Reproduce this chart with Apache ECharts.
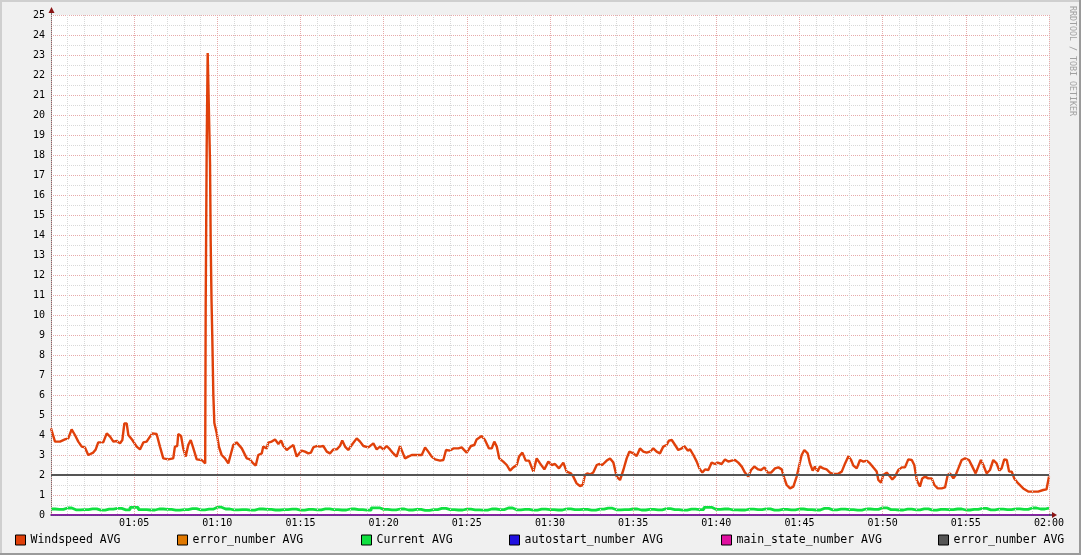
<!DOCTYPE html>
<html><head><meta charset="utf-8">
<script src="https://cdn.jsdelivr.net/npm/echarts@6/dist/echarts.min.js"></script>
<style>html,body{margin:0;padding:0;background:#f0f0f0}#c{width:1081px;height:555px}</style>
</head><body><div id="c"></div>
<script>
// minutes after 01:00 -> value
const windspeedPoints = [
[0.00,4.33],[0.24,3.67],[0.54,3.67],[0.84,3.78],[1.04,3.83],[1.24,4.28],[1.44,4.0],[1.64,3.67],[1.85,3.42],[2.04,3.38],
[2.24,3.0],[2.54,3.12],[2.69,3.28],[2.84,3.63],[3.14,3.63],[3.35,4.08],[3.55,3.92],[3.75,3.67],[3.95,3.7],[4.15,3.58],
[4.29,3.75],[4.41,4.58],[4.55,4.58],[4.65,4.0],[4.89,3.75],[5.15,3.42],[5.35,3.28],[5.55,3.63],[5.75,3.67],[5.95,3.92],
[6.09,4.08],[6.35,4.05],[6.55,3.42],[6.75,2.83],[7.05,2.78],[7.35,2.83],[7.45,3.42],[7.59,3.45],[7.65,4.05],[7.82,3.95],
[7.95,3.33],[8.10,2.92],[8.25,3.5],[8.40,3.75],[8.56,3.33],[8.76,2.78],[9.06,2.75],[9.27,2.58],[9.30,10.5],[9.35,10.5],
[9.36,18.4],[9.41,18.4],[9.42,23.1],[9.53,23.1],[9.56,17.6],[9.59,17.6],[9.60,13.7],[9.64,13.7],[9.65,10.75],[9.70,8.75],[9.76,6.0],
[9.82,4.6],[9.96,4.1],[10.10,3.4],[10.26,3.0],[10.46,2.83],[10.66,2.58],[10.96,3.5],[11.16,3.63],[11.47,3.33],[11.77,2.83],
[11.96,2.78],[12.16,2.58],[12.31,2.47],[12.46,3.0],[12.67,3.08],[12.76,3.42],[12.97,3.33],[13.06,3.62],[13.27,3.67],[13.47,3.78],
[13.67,3.55],[13.83,3.72],[13.97,3.45],[14.17,3.25],[14.37,3.38],[14.57,3.5],[14.77,2.92],[14.87,2.83],[15.07,3.22],[15.27,3.17],
[15.47,3.08],[15.63,3.12],[15.77,3.38],[15.97,3.45],[16.17,3.42],[16.37,3.45],[16.58,3.17],[16.77,3.08],[16.97,3.28],[17.18,3.28],
[17.37,3.45],[17.51,3.72],[17.68,3.42],[17.87,3.25],[18.08,3.5],[18.38,3.83],[18.58,3.67],[18.78,3.45],[19.08,3.38],[19.38,3.58],
[19.58,3.28],[19.78,3.42],[19.98,3.28],[20.18,3.45],[20.38,3.28],[20.58,3.08],[20.78,2.92],[20.98,3.45],[21.12,3.17],[21.28,2.83],
[21.48,2.92],[21.69,3.0],[21.99,3.0],[22.29,3.0],[22.49,3.38],[22.68,3.17],[22.89,2.92],[23.09,2.78],[23.39,2.72],[23.59,2.75],
[23.75,3.25],[23.99,3.22],[24.19,3.33],[24.49,3.33],[24.69,3.38],[24.99,3.12],[25.25,3.45],[25.45,3.5],[25.59,3.78],[25.89,3.95],
[26.09,3.75],[26.33,3.33],[26.50,3.33],[26.65,3.67],[26.80,3.42],[26.95,2.83],[27.19,2.67],[27.40,2.5],[27.60,2.22],[27.79,2.38],
[28.00,2.5],[28.14,2.92],[28.34,3.12],[28.54,2.72],[28.74,2.72],[29.00,2.17],[29.20,2.83],[29.40,2.58],[29.66,2.28],[29.90,2.67],
[30.10,2.5],[30.30,2.55],[30.54,2.33],[30.80,2.62],[31.00,2.17],[31.26,2.08],[31.40,1.92],[31.60,1.58],[31.80,1.45],[31.97,1.5],
[32.10,2.0],[32.24,2.08],[32.41,2.03],[32.60,2.13],[32.81,2.5],[32.95,2.55],[33.14,2.5],[33.41,2.72],[33.61,2.83],[33.81,2.62],
[34.01,1.92],[34.21,1.75],[34.41,2.25],[34.61,2.83],[34.77,3.17],[35.01,3.08],[35.21,2.95],[35.41,3.33],[35.61,3.17],[35.81,3.12],
[36.01,3.17],[36.21,3.33],[36.41,3.17],[36.61,3.08],[36.81,3.42],[37.01,3.5],[37.15,3.72],[37.32,3.75],[37.52,3.5],[37.71,3.25],
[37.92,3.33],[38.07,3.45],[38.28,3.22],[38.42,3.28],[38.62,3.0],[38.82,2.67],[38.98,2.33],[39.16,2.12],[39.32,2.28],[39.52,2.25],
[39.72,2.62],[39.92,2.55],[40.08,2.62],[40.32,2.55],[40.52,2.78],[40.72,2.67],[40.92,2.72],[41.12,2.75],[41.32,2.62],[41.53,2.42],
[41.72,2.12],[41.92,1.92],[42.09,2.25],[42.28,2.42],[42.52,2.28],[42.69,2.25],[42.89,2.38],[43.09,2.12],[43.29,2.12],[43.53,2.33],
[43.73,2.38],[43.93,2.28],[44.09,1.83],[44.23,1.5],[44.43,1.33],[44.63,1.42],[44.83,1.92],[44.97,2.42],[45.13,3.0],[45.29,3.25],
[45.49,3.08],[45.63,2.58],[45.79,2.22],[45.93,2.42],[46.09,2.17],[46.23,2.42],[46.43,2.33],[46.63,2.28],[46.83,2.12],[47.03,2.05],
[47.30,2.05],[47.54,2.17],[47.74,2.58],[47.94,2.94],[48.10,2.75],[48.24,2.47],[48.44,2.33],[48.64,2.75],[48.84,2.67],[49.04,2.72],
[49.24,2.58],[49.44,2.38],[49.64,2.17],[49.74,1.75],[49.90,1.62],[50.04,2.0],[50.24,2.12],[50.44,1.92],[50.58,1.78],[50.74,1.92],
[50.94,2.25],[51.15,2.38],[51.34,2.38],[51.54,2.78],[51.75,2.75],[51.90,2.5],[52.05,1.75],[52.24,1.42],[52.38,1.83],[52.55,1.92],
[52.74,1.83],[52.95,1.83],[53.11,1.5],[53.31,1.33],[53.55,1.33],[53.75,1.38],[53.91,2.0],[54.05,2.08],[54.25,1.83],[54.39,2.0],
[54.55,2.33],[54.75,2.75],[54.95,2.83],[55.19,2.75],[55.39,2.42],[55.59,2.08],[55.75,2.42],[55.91,2.75],[56.05,2.5],[56.25,2.08],
[56.45,2.25],[56.65,2.75],[56.85,2.58],[57.01,2.22],[57.15,2.33],[57.31,2.78],[57.46,2.75],[57.60,2.17],[57.76,2.17],[57.91,1.83],
[58.15,1.58],[58.45,1.33],[58.75,1.17],[59.05,1.17],[59.35,1.17],[59.65,1.25],[59.85,1.28],[60.00,1.92]
];
// Current AVG, one value every half minute from 01:00 to 02:00
const currentValues = [
0.30,0.28,0.35,0.26,0.27,0.31,0.24,0.29,0.33,0.26,
0.38,0.27,0.25,0.30,0.28,0.24,0.27,0.32,0.26,0.29,
0.39,0.30,0.26,0.27,0.24,0.30,0.28,0.25,0.27,0.29,
0.24,0.28,0.26,0.31,0.27,0.25,0.30,0.27,0.24,0.36,
0.28,0.26,0.30,0.25,0.28,0.23,0.27,0.33,0.27,0.25,
0.29,0.26,0.24,0.30,0.27,0.35,0.26,0.28,0.24,0.29,
0.27,0.25,0.31,0.27,0.28,0.24,0.29,0.34,0.26,0.27,
0.30,0.25,0.28,0.26,0.32,0.27,0.24,0.29,0.27,0.38,
0.28,0.30,0.26,0.25,0.29,0.27,0.31,0.24,0.28,0.26,
0.30,0.27,0.25,0.33,0.26,0.29,0.27,0.24,0.30,0.28,
0.36,0.27,0.25,0.29,0.26,0.31,0.24,0.28,0.27,0.30,
0.25,0.28,0.33,0.26,0.29,0.27,0.31,0.28,0.35,0.30,0.34
];
const currentStep = 0.5;
const errorNumberPoints = [[0,2],[60,2]];
const autostartPoints = [[0,0],[60,0]];
const mainStatePoints = [[0,0],[60,0]];
const seriesNames = ['Windspeed AVG','error_number AVG','Current AVG','autostart_number AVG','main_state_number AVG','error_number AVG '];
const seriesColors = ['#e0400a','#e07800','#10e040','#2010e0','#e010a0','#555555'];
const legendLefts = [15,177,361,509,721,938];

const font = 'DejaVu Sans Mono';
const chart = echarts.init(document.getElementById('c'), null, {renderer:'canvas'});
const currentPoints = currentValues.map((v,i)=>[i*currentStep, v]);
const datas = [windspeedPoints, errorNumberPoints, currentPoints, autostartPoints, mainStatePoints, errorNumberPoints];
const widths = [2.4, 2, 2.8, 1, 1, 2];
const steps = [false, false, 'middle', false, false, false];

function fmt(v){ if (v >= 60) return '02:00'; const m = Math.round(v); return '01:' + (m<10?'0':'') + m; }

chart.setOption({
  animation:false,
  backgroundColor:'#f0f0f0',
  grid:{left:51,right:32,top:15,bottom:40,show:true,backgroundColor:'#ffffff',borderWidth:0},
  xAxis:{type:'value',min:0,max:60,interval:5,z:5,
    axisLine:{show:true,lineStyle:{color:'#2b2454',width:1.5}},
    axisTick:{show:false},
    axisLabel:{showMinLabel:false,formatter:fmt,color:'#000',fontFamily:font,fontSize:10,margin:3},
    splitLine:{show:true,lineStyle:{color:'#e6aaaa',type:'dotted',width:1}},
    minorTick:{show:false,splitNumber:5},
    minorSplitLine:{show:true,lineStyle:{color:'#d8d8d8',type:'dotted',width:1}}
  },
  yAxis:{type:'value',min:0,max:25,interval:1,
    axisLine:{show:true,lineStyle:{color:'#707070',width:1}},
    axisTick:{show:false},
    axisLabel:{color:'#000',fontFamily:font,fontSize:10,margin:6},
    splitLine:{show:true,lineStyle:{color:'#e6aaaa',type:'dotted',width:1}},
    minorTick:{show:false,splitNumber:2},
    minorSplitLine:{show:true,lineStyle:{color:'#d8d8d8',type:'dotted',width:1}}
  },
  legend: seriesNames.map((n,i)=>({
    data:[{name:n,icon:'rect'}], left:legendLefts[i], top:534, selectedMode:false,
    itemWidth:10,itemHeight:10,itemGap:0,padding:0,
    itemStyle:{borderColor:'#000',borderWidth:1},
    textStyle:{fontFamily:font,fontSize:11.5,color:'#000',padding:[0,0,0,0]}
  })),
  series: seriesNames.map((n,i)=>({
    name:n,type:'line',data:datas[i],showSymbol:false,symbol:'none',step:steps[i],
    lineStyle:{color:seriesColors[i],width:widths[i]},itemStyle:{color:seriesColors[i]},
    z: 2+i, emphasis:{disabled:true}, silent:true
  })),
  graphic:[
    {id:'bt',type:'rect',shape:{x:0,y:0,width:1081,height:2},style:{fill:'#cfcfcf'}},
    {id:'bl',type:'rect',shape:{x:0,y:0,width:2,height:555},style:{fill:'#cfcfcf'}},
    {id:'bb',type:'rect',shape:{x:0,y:553,width:1081,height:2},style:{fill:'#9a9a9a'}},
    {id:'br',type:'rect',shape:{x:1079,y:0,width:2,height:555},style:{fill:'#9a9a9a'}},
    {id:'wm',type:'text',x:1072,y:6,rotation:-Math.PI/2,
      style:{text:'RRDTOOL / TOBI OETIKER',fill:'#a0a0a0',font:'8.3px "DejaVu Sans Mono"',textAlign:'left',textVerticalAlign:'middle'}}
  ]
});

const yTopPx = chart.convertToPixel({gridIndex:0},[0,25]);
const xEndPx = chart.convertToPixel({gridIndex:0},[60,0]);
chart.setOption({graphic:[
  {id:'yext',type:'line',shape:{x1:yTopPx[0]+0.5,y1:yTopPx[1],x2:yTopPx[0]+0.5,y2:yTopPx[1]-3},style:{stroke:'#707070',lineWidth:1}},
  {id:'yarr',type:'polygon',shape:{points:[[yTopPx[0]-2.5,yTopPx[1]-2],[yTopPx[0]+3.5,yTopPx[1]-2],[yTopPx[0]+0.5,yTopPx[1]-8]]},style:{fill:'#8b1414'}},
  {id:'xext',type:'line',shape:{x1:xEndPx[0],y1:xEndPx[1],x2:xEndPx[0]+3,y2:xEndPx[1]},style:{stroke:'#2b2454',lineWidth:1.5}},
  {id:'xarr',type:'polygon',shape:{points:[[xEndPx[0]+3,xEndPx[1]-3],[xEndPx[0]+3,xEndPx[1]+3],[xEndPx[0]+8,xEndPx[1]]]},style:{fill:'#8b1414'}}
]});
</script></body></html>
